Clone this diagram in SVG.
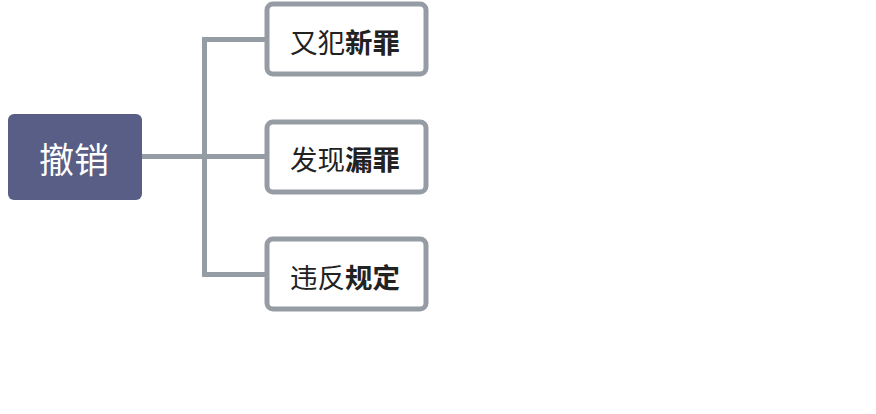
<svg xmlns="http://www.w3.org/2000/svg" width="876" height="414" viewBox="0 0 876 414">
<style>
.conn{fill:none;stroke:#969ca4;stroke-width:5;stroke-linejoin:miter}
.child{fill:#fff;stroke:#969ca4;stroke-width:5}
.t{font-family:"Noto Sans CJK SC","Noto Sans",sans-serif;font-size:27.5px;fill:#222;dominant-baseline:central}
.b{font-weight:bold}
.root{fill:#585e86}
.rt{font-family:"Noto Sans CJK SC","Noto Sans",sans-serif;font-size:35px;fill:#fff;dominant-baseline:central;text-anchor:middle}
</style>
<rect width="876" height="414" fill="#fff"/>
<g id="connectors">
<path class="conn" d="M142 156.5H267"/>
<path class="conn" d="M267 39.5H204.5V274.5H267"/>
</g>
<g id="root">
<rect class="root" x="8" y="114" width="134" height="86" rx="6"/>
<text class="rt" x="74" y="157">撤销</text>
</g>
<g id="n1">
<rect class="child" x="267" y="4" width="159" height="70" rx="6"/>
<text class="t" x="290" y="41">又犯<tspan class="b">新罪</tspan></text>
</g>
<g id="n2">
<rect class="child" x="267" y="122" width="159" height="70" rx="6"/>
<text class="t" x="290" y="158">发现<tspan class="b">漏罪</tspan></text>
</g>
<g id="n3">
<rect class="child" x="267" y="239" width="159" height="70" rx="6"/>
<text class="t" x="290" y="276">违反<tspan class="b">规定</tspan></text>
</g>
</svg>
